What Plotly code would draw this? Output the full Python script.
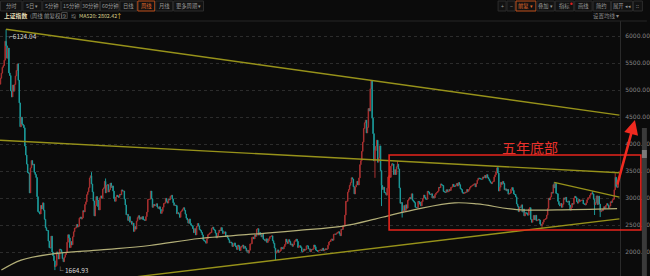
import plotly.graph_objects as go

# ---------------- data: Shanghai Composite weekly closes -------------
first_open = 5107
w2007 = [5218, 5312, 5421, 5454, 5552, 5903, 5818, 5589, 5777, 5316, 5268, 4984, 4871, 5091, 4978, 5101, 5261]
w2008 = [5362, 5484, 5180, 4761, 4320, 4497, 4370, 4348, 4300, 3962, 3796, 3628, 3472, 3460, 3094, 3557, 3693,
         3613, 3626, 3474, 3433, 3379, 3024, 2748, 2736, 2703, 2862, 2800, 2910, 2775, 2605, 2450, 2400, 2397,
         2202, 2079, 2075, 2294, 2000, 1930, 1839, 1728, 1748, 2001, 1970, 1871, 2052, 2041, 2000, 1877, 1821]
w2009 = [1904, 1954, 1990, 2181, 2320, 2261, 2082, 2193, 2133, 2281, 2374, 2444, 2445, 2510, 2463, 2477, 2626,
         2647, 2610, 2633, 2766, 2743, 2880, 2928, 3061, 3113, 3189, 3372, 3412, 3260, 3112, 2946, 2668, 2861,
         3026, 2963, 2839, 2779, 3004, 3039, 2996, 3164, 3187, 3308, 3096, 3236, 3247, 3113, 3154, 3277]
w2010 = [3196, 3224, 3128, 2989, 2939, 3018, 3051, 3031, 3013, 3068, 3060, 3150, 3129, 3130, 2979, 2870, 2688,
         2697, 2584, 2656, 2553, 2569, 2514, 2535, 2382, 2470, 2424, 2572, 2637, 2672, 2606, 2642, 2611, 2656,
         2598, 2598, 2583, 2655, 2738, 2971, 2975, 2978, 3129, 2985, 2828, 2880, 2857, 2866, 2894, 2833, 2808]
w2011 = [2838, 2791, 2715, 2752, 2827, 2899, 2905, 2993, 2937, 2906, 2977, 2967, 3030, 3050, 2983, 2911, 2863,
         2871, 2858, 2709, 2728, 2705, 2642, 2746, 2762, 2797, 2820, 2772, 2701, 2626, 2593, 2534, 2612, 2528,
         2497, 2482, 2433, 2359, 2431, 2317, 2473, 2528, 2481, 2416, 2396, 2360, 2316, 2224, 2205, 2199]
w2012 = [2163, 2245, 2319, 2330, 2352, 2357, 2439, 2460, 2420, 2405, 2349, 2262, 2302, 2359, 2406, 2396, 2452,
         2394, 2344, 2345, 2373, 2286, 2306, 2260, 2225, 2170, 2185, 2168, 2102, 2133, 2168, 2115, 2092, 2047,
         2127, 2108, 2027, 2086, 2104, 2128, 2068, 2104, 2070, 2015, 2031, 1980, 2033, 2150, 2153, 2269]
w2013 = [2276, 2243, 2317, 2291, 2419, 2432, 2314, 2359, 2318, 2278, 2328, 2237, 2225, 2206, 2245, 2177, 2205,
         2246, 2283, 2288, 2300, 2210, 2162, 2073, 1979, 2007, 2039, 1992, 2010, 2029, 2085, 2068, 2057, 2098,
         2139, 2236, 2191, 2160, 2228, 2193, 2133, 2149, 2106, 2135, 2196, 2220, 2237, 2197, 2084, 2101, 2116]
w2014 = [2083, 2013, 2004, 2054, 2033, 2044, 2115, 2113, 2056, 2057, 2004, 2047, 2042, 2058, 2130, 2097, 2036,
         2026, 2011, 2026, 2034, 2039, 2029, 2070, 2024, 2036, 2059, 2046, 2059, 2126, 2185, 2194, 2226, 2240,
         2217, 2326, 2331, 2329, 2347, 2364, 2375, 2341, 2302, 2420, 2418, 2478, 2487, 2683, 2938, 2938, 3108,
         3157, 3235]
w2015 = [3285, 3376, 3351, 3210, 3076, 3203, 3246, 3310, 3241, 3372, 3617, 3691, 3863, 4034, 4287, 4393, 4441,
         4205, 4308, 4658, 4611, 5023, 5166, 4478, 4192, 3686, 3877, 3957, 4070, 3663, 3744, 3965, 3507, 3232,
         3160, 3200, 3097, 3092, 3053, 3183, 3391, 3412, 3382, 3590, 3632, 3630, 3436, 3524, 3435, 3578, 3627,
         3539]
w2016 = [3186, 2901, 2916, 2737, 2763, 2860, 2767, 2874, 2810, 2955, 2979, 3009, 2985, 3078, 2959, 2938, 2913,
         2827, 2825, 2822, 2938, 2927, 2885, 2854, 2933, 2988, 3054, 3012, 2979, 2976, 3125, 3108, 3070, 3067,
         3078, 3002, 3033, 3004, 3063, 3090, 3104, 3125, 3196, 3192, 3261, 3243, 3232, 3122, 3110, 3104]
w2017 = [3154, 3112, 3123, 3159, 3140, 3197, 3202, 3253, 3218, 3212, 3237, 3269, 3222, 3286, 3246, 3173, 3155,
         3103, 3083, 3090, 3107, 3105, 3158, 3123, 3157, 3192, 3217, 3222, 3237, 3253, 3262, 3208, 3268, 3331,
         3367, 3365, 3353, 3352, 3348, 3390, 3378, 3416, 3371, 3432, 3382, 3353, 3317, 3289, 3266, 3297, 3307]
w2018 = [3391, 3429, 3487, 3558, 3462, 3129, 3199, 3289, 3254, 3307, 3269, 3152, 3169, 3131, 3159, 3071, 3082,
         3091, 3163, 3193, 3141, 3075, 3067, 3022, 2890, 2847, 2747, 2831, 2829, 2873, 2740, 2795, 2669, 2729,
         2725, 2702, 2682, 2797, 2821, 2606, 2550, 2598, 2676, 2599, 2679, 2579, 2588, 2605, 2593, 2516, 2494]
w2019 = [2514, 2553, 2596, 2601, 2618, 2682, 2804, 2994, 2969, 3021, 3104, 3091, 3247, 3189, 3270, 3086, 3078,
         2939, 2882, 2853, 2899, 2828, 2882, 3001, 2979, 3012, 2930, 2925, 2944, 2868, 2775, 2824, 2898, 2886,
         2999, 3031, 3006, 2933, 2905, 2974, 2938, 2955, 2958, 2964, 2892, 2885, 2872, 2912, 2968, 3005, 3006,
         3050]
w2020 = [3083, 3092, 3075, 2977, 2876, 2917, 3039, 2880, 3034, 2887, 2746, 2772, 2764, 2797, 2839, 2809, 2861,
         2895, 2869, 2814, 2853, 2931, 2920, 2968, 2979, 3153, 3384, 3214, 3197, 3310]

years = [("2007", w2007), ("2008", w2008), ("2009", w2009), ("2010", w2010), ("2011", w2011),
         ("2012", w2012), ("2013", w2013), ("2014", w2014), ("2015", w2015), ("2016", w2016),
         ("2017", w2017), ("2018", w2018), ("2019", w2019), ("2020", w2020)]

# extreme wicks (year, week position in that year's list, field, value)
extremes = [("2007", 6, "high", 6124.04), ("2008", 41, "low", 1664.93), ("2009", 29, "high", 3478.01),
            ("2009", 44, "high", 3361.39), ("2013", 24, "low", 1849.65), ("2015", 22, "high", 5178.19),
            ("2015", 26, "low", 3373.54), ("2015", 33, "low", 2850.71), ("2015", 50, "high", 3684.57),
            ("2016", 3, "low", 2638.30), ("2018", 4, "high", 3587.03), ("2019", 0, "low", 2440.91),
            ("2019", 13, "high", 3288.45), ("2020", 2, "high", 3127.17), ("2020", 4, "low", 2685.27),
            ("2020", 10, "low", 2646.81), ("2020", 26, "high", 3458.79)]

# trend lines anchored on highs / lows
trend_lines = [
    {"pts": [("2007", 6, 6124.04), ("2015", 22, 5178.19)], "from": "anchor"},
    {"pts": [("2015", 50, 3684.57), ("2018", 4, 3587.03)], "from": "left"},
    {"pts": [("2013", 24, 1849.65), ("2019", 0, 2440.91)], "from": "left"},
    {"pts": [("2019", 13, 3288.45), ("2020", 2, 3127.17)], "from": "anchor"},
]

# MA520: (week index, value)
ma520_idx = [1, 22, 54, 107, 159, 212, 283, 318, 365, 399, 413, 445, 484, 508, 550, 593, 657]
ma520_val = [1665, 1850, 1960, 2040, 2120, 2250, 2350, 2400, 2480, 2610, 2670, 2800, 2910, 2890, 2785, 2780, 2802.42]

y_ticks = [2000, 2500, 3000, 3500, 4000, 4500, 5000, 5500, 6000]

# ---------------- build OHLC ----------------
opens, closes, highs, lows = [], [], [], []
pos = {}
prev = first_open
i = 0
for yname, arr in years:
    for k, c in enumerate(arr):
        pos[(yname, k)] = i
        opens.append(prev)
        closes.append(c)
        highs.append(max(prev, c))
        lows.append(min(prev, c))
        prev = c
        i += 1
for yname, k, f, v in extremes:
    j = pos[(yname, k)]
    if f == "high":
        highs[j] = max(highs[j], v)
    else:
        lows[j] = min(lows[j], v)
N = len(closes)
idx = list(range(N))

X_MIN, X_MAX = -0.5, N + 1.1
Y_MIN, Y_MAX = 1555.6, 6277.8
FIG_W, FIG_H = 650, 276
M_T, M_R = 21, 27
PW, PH = FIG_W - M_R, FIG_H - M_T


def px(x):
    return x / PW


def py(y):
    return (FIG_H - y) / PH


FONT = "Noto Sans CJK SC, Noto Sans, sans-serif"
fig = go.Figure()

# MA520
fig.add_trace(go.Scatter(x=ma520_idx, y=ma520_val, mode="lines",
                         line=dict(color="#b3af78", width=1.2, shape="spline", smoothing=1.0),
                         hoverinfo="skip", showlegend=False))

# trend lines
x_end = N - 1 + 1.5
for tl in trend_lines:
    (y1n, k1, v1), (y2n, k2, v2) = tl["pts"]
    i1, i2 = pos[(y1n, k1)], pos[(y2n, k2)]
    slope = (v2 - v1) / (i2 - i1)
    xs = i1 if tl["from"] == "anchor" else X_MIN
    fig.add_trace(go.Scatter(x=[xs, x_end], y=[v1 + slope * (xs - i1), v1 + slope * (x_end - i1)],
                             mode="lines", line=dict(color="#97921a", width=1.4),
                             hoverinfo="skip", showlegend=False))

# candles
fig.add_trace(go.Candlestick(
    x=idx, open=opens, high=highs, low=lows, close=closes,
    increasing=dict(line=dict(color="#a83030", width=1), fillcolor="#842626"),
    decreasing=dict(line=dict(color="#1c9a9a", width=1), fillcolor="#1c9a9a"),
    whiskerwidth=0, showlegend=False, hoverinfo="skip"))

shapes = []
ann = []


def text(x, y, s, size=6, color="#9a9a9a", xanchor="center", family=FONT, **kw):
    ann.append(dict(xref="paper", yref="paper", x=px(x), y=py(y), text=s, showarrow=False,
                    xanchor=xanchor, yanchor="middle", font=dict(family=family, size=size, color=color), **kw))


# extreme labels
i_hi = highs.index(max(highs))
i_lo = lows.index(min(lows))
ann.append(dict(x=i_hi + 1, y=max(highs), xref="x", yref="y", text="⌐%.2f" % max(highs), showarrow=False,
                xanchor="left", yanchor="top", font=dict(family=FONT, size=6.5, color="#d8d8d8")))
ann.append(dict(x=i_lo, y=min(lows), xref="x", yref="y", text="└ %.2f" % min(lows), showarrow=False,
                xanchor="left", yanchor="middle", font=dict(family=FONT, size=6.5, color="#d8d8d8")))

# red box, arrow, text
shapes.append(dict(type="rect", xref="paper", yref="y", x0=px(391), x1=px(644), y0=2407, y1=3796,
                   line=dict(color="#e8241c", width=1.6), fillcolor="rgba(0,0,0,0)", layer="above"))
ann.append(dict(xref="paper", yref="y", x=px(638), y=4444, ax=-18, ay=66, showarrow=True,
                arrowhead=2, arrowsize=1.1, arrowwidth=2.6, arrowcolor="#f02a20", text=""))
ann.append(dict(xref="paper", yref="y", x=px(533), y=3944, text="五年底部", showarrow=False,
                xanchor="center", yanchor="middle",
                font=dict(family=FONT, size=14, color="#e8302a")))

# separator + scrollbar
shapes.append(dict(type="line", xref="paper", yref="paper", x0=0, x1=px(650), y0=py(21), y1=py(21),
                   line=dict(color="#262626", width=1)))
shapes.append(dict(type="rect", xref="paper", yref="paper", x0=px(645), x1=px(650), y0=py(276), y1=py(128),
                   line=dict(width=0), fillcolor="#3a3a3a"))
shapes.append(dict(type="rect", xref="paper", yref="paper", x0=px(645), x1=px(650), y0=py(158), y1=py(150),
                   line=dict(width=0), fillcolor="#7a7a7a"))

# toolbar
left_labels = ["分时", "5日 ▾", "5分钟", "15分钟", "30分钟", "60分钟", "日线", "周线", "月线", "更多周期 ▾"]
left_edges = [0, 22.5, 42.5, 61.5, 81, 100.5, 120, 138, 156, 174, 205]
right_labels = ["+", "−", "前复 ▾", "叠加 ▾", "指标", "画线", "简约", "展开 ◂◂", "::"]
right_edges = [500, 509, 518, 539, 557.5, 577, 595.5, 614, 636, 646]
active = {"周线", "前复 ▾"}


def add_buttons(labels, edges):
    for lab, x0, x1 in zip(labels, edges[:-1], edges[1:]):
        on = lab in active
        shapes.append(dict(type="rect", xref="paper", yref="paper", x0=px(x0 + 0.5), x1=px(x1 - 0.5),
                           y0=py(11), y1=py(1), fillcolor="#121212",
                           line=dict(color="#c0501c" if on else "#2c2c2c", width=1)))
        text((x0 + x1) / 2, 6, lab, size=5.3, color="#e0692a" if on else "#9a9a9a")


add_buttons(left_labels, left_edges)
add_buttons(right_labels, right_edges)
shapes.append(dict(type="circle", xref="paper", yref="paper", x0=px(573), x1=px(575.5), y0=py(5), y1=py(2.5),
                   fillcolor="#e02020", line=dict(width=0)))

# info row
row_y = 15.5
text(2, row_y, "<b>上证指数</b>", size=5.8, color="#e6dfb8", xanchor="left")
text(28, row_y, "(周线 前复权)", size=5.5, color="#9a9a9a", xanchor="left")
shapes.append(dict(type="rect", xref="paper", yref="paper", x0=px(62), x1=px(67.5), y0=py(18.5), y1=py(12.5),
                   line=dict(color="#555", width=0.8), fillcolor="rgba(0,0,0,0)"))
text(64.8, row_y, "9", size=5, color="#aaaaaa")
text(69.5, row_y, "均", size=5, color="#9a9a9a", xanchor="left")
text(77, row_y, "MA520: %.2f" % ma520_val[-1], size=5.3, color="#d9cf8c", xanchor="left")
text(114.5, row_y, "↑", size=6.5, color="#e0c040", xanchor="left")
text(594, row_y, "设置均线 ▾", size=5.5, color="#8a8a8a", xanchor="left")

fig.update_layout(
    width=FIG_W, height=FIG_H,
    margin=dict(l=0, r=M_R, t=M_T, b=0, pad=0),
    paper_bgcolor="#0b0b0b", plot_bgcolor="#0b0b0b",
    showlegend=False, shapes=shapes, annotations=ann,
    xaxis=dict(range=[X_MIN, X_MAX], visible=False, rangeslider=dict(visible=False), fixedrange=True),
    yaxis=dict(range=[Y_MIN, Y_MAX], side="right", tickvals=y_ticks,
               ticktext=["%.2f" % v for v in y_ticks], tickfont=dict(family="DejaVu Sans", size=6, color="#858585"),
               showgrid=True, gridcolor="#2c2c2c", griddash="dot", gridwidth=1,
               showline=True, linecolor="#2a2a2a", linewidth=1, zeroline=False, ticks="",
               ticklabelstandoff=3, fixedrange=True),
)

fig.write_html("out.html")
